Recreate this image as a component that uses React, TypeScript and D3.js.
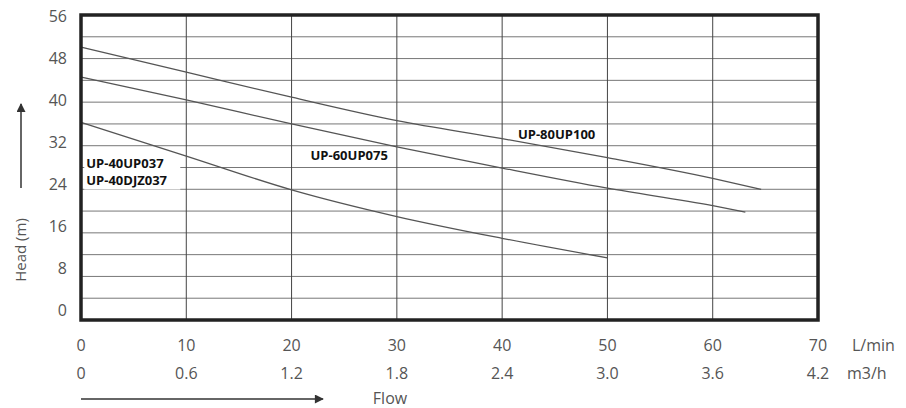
import React from "react";
import * as d3 from "d3";

// flow in L/min
const FLOW_TICKS = [0, 10, 20, 30, 40, 50, 60, 70];
const M3H_LABELS = ["0", "0.6", "1.2", "1.8", "2.4", "3.0", "3.6", "4.2"];
const HEAD_TICKS = [0, 8, 16, 24, 32, 40, 48, 56];
const HEAD_GRID = d3.range(0, 57, 4);

// pump curves
const UP80_FLOW = [0, 10, 20, 30, 40, 50, 60, 64.6];
const UP80_HEAD = [50.1, 45.5, 40.9, 36.6, 33.3, 29.8, 26.0, 24.0];
const UP60_FLOW = [0, 10, 20, 30, 40, 50, 60, 63.1];
const UP60_HEAD = [44.6, 40.4, 36.0, 31.8, 27.9, 24.2, 21.0, 19.8];
const UP40_FLOW = [0, 10, 20, 30, 40, 50];
const UP40_HEAD = [36.3, 30.1, 23.9, 19.0, 15.0, 11.4];

const SERIES = [
  { name: "UP-80UP100", flow: UP80_FLOW, head: UP80_HEAD },
  { name: "UP-60UP075", flow: UP60_FLOW, head: UP60_HEAD },
  { name: "UP-40UP037", flow: UP40_FLOW, head: UP40_HEAD },
];

// curve labels: text lines, anchor flow, anchor head (baseline of first line)
const LABELS = [
  { lines: ["UP-80UP100"], flow: 41.5, head: 33.2 },
  { lines: ["UP-60UP075"], flow: 21.8, head: 29.4 },
  { lines: ["UP-40UP037", "UP-40DJZ037"], flow: 0.5, head: 28.0 },
];

const W = 906;
const H = 408;

export default function App() {
  const x = d3.scaleLinear().domain([0, 70]).range([81, 818]);
  const y = d3.scaleLinear().domain([0, 56]).range([320, 15]);
  // tick labels sit a little above their gridlines near the bottom
  const yLabel = d3.scaleLinear().domain([0, 56]).range([310, 16]);

  const line = d3
    .line<[number, number]>()
    .x((d) => x(d[0]))
    .y((d) => y(d[1]))
    .curve(d3.curveMonotoneX);

  const tickFont = "'Open Sans', 'DejaVu Sans', sans-serif";
  const lineH = 17;

  return (
    <svg
      width={W}
      height={H}
      style={{ position: "absolute", left: 0, top: 0, background: "#fff" }}
    >
      <defs>
        <marker id="arr" viewBox="0 0 10 10" refX="9" refY="5" markerWidth="7" markerHeight="6" orient="auto">
          <path d="M0,0 L10,5 L0,10 z" fill="#333" />
        </marker>
      </defs>

      {/* horizontal gridlines */}
      {HEAD_GRID.map((v) => (
        <line key={"h" + v} x1={x(0)} x2={x(70)} y1={y(v)} y2={y(v)} stroke="#777" strokeWidth={1} />
      ))}
      {/* vertical gridlines */}
      {FLOW_TICKS.map((v) => (
        <line key={"v" + v} x1={x(v)} x2={x(v)} y1={y(56)} y2={y(0)} stroke="#444" strokeWidth={1} />
      ))}

      {/* white label backgrounds hide the grid, not the curves */}
      {LABELS.map((l) => (
        <rect
          key={"bg" + l.lines[0]}
          x={x(l.flow) - 2}
          y={y(l.head) - 12}
          width={l.lines.length > 1 ? 96 : 86}
          height={l.lines.length * lineH}
          fill="#fff"
        />
      ))}

      {/* curves */}
      {SERIES.map((s) => (
        <path
          key={s.name}
          d={line(s.flow.map((f, i) => [f, s.head[i]] as [number, number])) || ""}
          fill="none"
          stroke="#555"
          strokeWidth={1.3}
        />
      ))}

      {/* curve labels */}
      {LABELS.map((l) =>
        l.lines.map((t, i) => (
          <text
            key={t}
            x={x(l.flow)}
            y={y(l.head) + i * lineH}
            fontFamily="'Open Sans', sans-serif"
            fontWeight={700}
            fontSize={13}
            fill="#111"
          >
            {t}
          </text>
        ))
      )}

      {/* frame */}
      <rect x={x(0)} y={y(56)} width={x(70) - x(0)} height={y(0) - y(56)} fill="none" stroke="#222" strokeWidth={3.5} />

      {/* y tick labels */}
      {HEAD_TICKS.map((v) => (
        <text
          key={"yl" + v}
          x={67}
          y={yLabel(v)}
          dy="0.35em"
          textAnchor="end"
          fontFamily={tickFont}
          fontSize={16}
          fill="#555"
        >
          {v}
        </text>
      ))}

      {/* x tick labels */}
      {FLOW_TICKS.map((v, i) => (
        <g key={"xl" + v}>
          <text x={x(v)} y={351} textAnchor="middle" fontFamily={tickFont} fontSize={16} fill="#555">
            {v}
          </text>
          <text x={x(v)} y={379} textAnchor="middle" fontFamily={tickFont} fontSize={16} fill="#555">
            {M3H_LABELS[i]}
          </text>
        </g>
      ))}
      <text x={852} y={351} fontFamily={tickFont} fontSize={16} fill="#555">L/min</text>
      <text x={847} y={379} fontFamily={tickFont} fontSize={16} fill="#555">m3/h</text>

      {/* flow axis title */}
      <line x1={x(0)} x2={323} y1={399} y2={399} stroke="#333" strokeWidth={1.5} markerEnd="url(#arr)" />
      <text x={390} y={404} textAnchor="middle" fontFamily={tickFont} fontSize={16} fill="#555">Flow</text>

      {/* head axis title */}
      <line x1={21} x2={21} y1={188} y2={104} stroke="#333" strokeWidth={1.5} markerEnd="url(#arr)" />
      <text
        transform="translate(26,250) rotate(-90)"
        textAnchor="middle"
        fontFamily={tickFont}
        fontSize={15}
        fill="#555"
      >
        Head (m)
      </text>
    </svg>
  );
}
